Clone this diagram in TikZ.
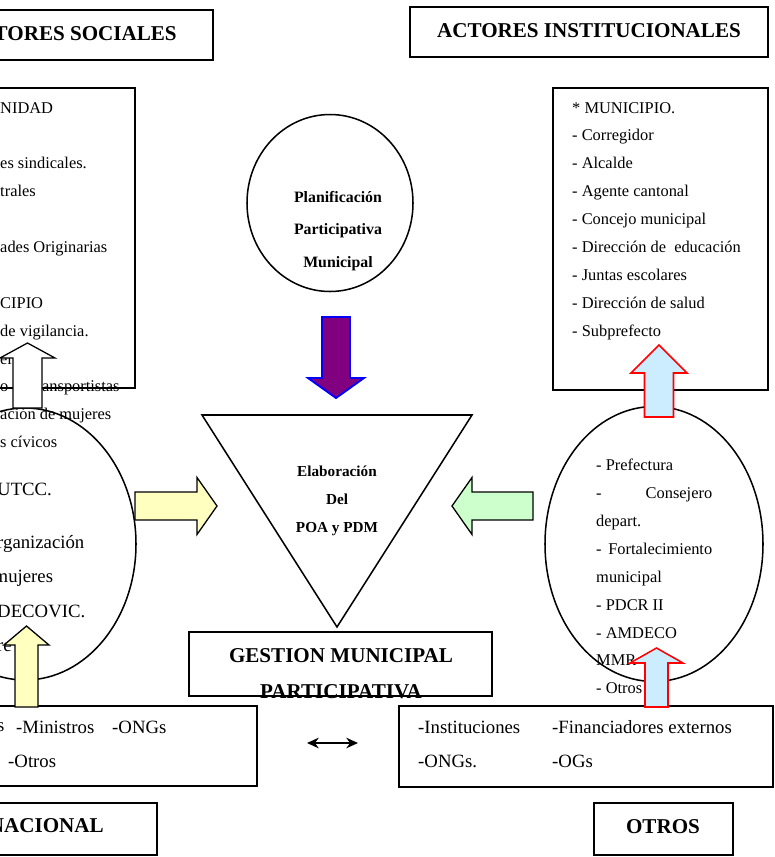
\documentclass[tikz,border=0pt]{standalone}
\usepackage{fontspec}
\setmainfont{Liberation Serif}
\usetikzlibrary{shapes, shapes.geometric, arrows.meta, positioning, fit}

% flecha de bloque: estilo, base, angulo, largo, largo punta, medio cuerpo, media punta
\newcommand{\flecha}[7]{%
  \filldraw[#1, shift={#2}, rotate=#3] (0,-#6) -- ({#4-#5},-#6) -- ({#4-#5},-#7) -- (#4,0)
    -- ({#4-#5},#7) -- ({#4-#5},#6) -- (0,#6) -- cycle;}

\begin{document}
\begin{tikzpicture}[x=0.03cm, y=-0.03cm]
% Estilos
\tikzstyle{caja} = [rectangle, draw=black, line width=1.5pt, inner sep=0pt]
\tikzstyle{titulo} = [inner sep=0pt, font=\fontsize{18}{22}\selectfont\bfseries]
\tikzstyle{circ} = [ellipse, draw=black, line width=1.3pt, inner sep=0pt]
\tikzstyle{lista} = [align=left, inner sep=0pt, anchor=north west, font=\fontsize{14}{23.8}\selectfont]
\tikzstyle{listag} = [align=left, inner sep=0pt, anchor=north west, font=\fontsize{16}{29.5}\selectfont]
\tikzstyle{texto} = [inner sep=0pt, anchor=west, font=\fontsize{16}{19}\selectfont]
\tikzstyle{negrita} = [align=center, inner sep=0pt, font=\fontsize{13.5}{28}\selectfont\bfseries]
\tikzstyle{doble} = [line width=2pt, {Stealth[length=10pt,width=9pt]}-{Stealth[length=10pt,width=9pt]}]
\tikzstyle{amarilla} = [draw=black, line width=1.1pt, fill={rgb,255:red,255;green,255;blue,192}]
\tikzstyle{blanca} = [draw=black, line width=1.1pt, fill=white]
\tikzstyle{celeste} = [draw=red, line width=1.3pt, fill={rgb,255:red,204;green,236;blue,255}]
\tikzstyle{verde} = [draw=black, line width=1.1pt, fill={rgb,255:red,204;green,255;blue,204}]
\tikzstyle{morada} = [draw=blue, line width=1.6pt, fill={rgb,255:red,128;green,0;blue,128}]

\clip (0,0) rectangle (775,857);

% Titulos
\node [caja, fit={(-63,10) (213,60)}] (sociales) {};
\node [titulo, anchor=base] (tsociales) at (70,40) {ACTORES SOCIALES};
\node [caja, fit={(410,7) (768,57)}] (institucionales) {};
\node [titulo, anchor=base] (tinstitucionales) at (589,37) {ACTORES INSTITUCIONALES};
\node [caja, fit={(-100,803) (157,855)}] (nacional) {};
\node [titulo, anchor=base east] (tnacional) at (104,832) {NACIONAL};
\node [caja, fit={(594,803) (733,855)}] (otros) {};
\node [titulo, anchor=base] (totros) at (663,833) {OTROS};

% Cajas de actores
\node [caja, fit={(-20,88) (135,388)}] (comunidad) {};
\node [lista] (tcomunidad) at (0,102) {NIDAD\\ \mbox{}\\ es sindicales.\\ trales\\ \mbox{}\\ ades Originarias\\ \mbox{}\\
  CIPIO\\ de vigilancia.\\ er\\ o de transportistas\\ ación de mujeres\\ s cívicos};
\node [caja, fit={(553,88) (768,390)}] (municipio) {};
\node [lista] (tmunicipio) at (572,102) {* MUNICIPIO.\\ - Corregidor\\ - Alcalde\\ - Agente cantonal\\ - Concejo municipal\\
  - Dirección de\ \ educación\\ - Juntas escolares\\ - Dirección de salud\\ - Subprefecto};

% Circulos
\node [circ, minimum width=222*0.03cm, minimum height=272*0.03cm] (orgs) at (25,544) {};
\node [texto] (tutcc) at (-3,489) {UTCC.};
\node [listag] (torgs) at (-3,535) {rganización\\ \hspace{-3pt}mujeres\\ DECOVIC.\\ re};
\node [circ, minimum width=218*0.03cm, minimum height=275*0.03cm] (prefectura) at (654,544) {};
\node [lista] (tprefectura) at (596,459) {- Prefectura\\ \hbox to 3.48cm{-\hfill Consejero}\\ depart.\\
  \hbox to 3.48cm{-\hfill Fortalecimiento}\\ municipal\\ - PDCR II\\ - AMDECO\\ MMR\\ - Otros};
\node [circ, minimum width=166*0.03cm, minimum height=177*0.03cm] (planif) at (330,203) {};
\node [negrita, font=\fontsize{13.5}{28}\selectfont\bfseries] (tplanif) at (338,231) {Planificación\\ Participativa\\ Municipal};

% Triangulo
\coordinate (t1) at (202,415);
\coordinate (t2) at (472,415);
\coordinate (t3) at (337,627);
\draw [line width=1.3pt] (t1) -- (t2) -- (t3) -- cycle;
\node [negrita, font=\fontsize{13}{24}\selectfont\bfseries] (poa) at (337,501) {Elaboración\\ Del\\ POA y PDM};

% Gestion
\node [caja, fit={(189,632) (492,696)}] (gestion) {};
\node [titulo, align=center, anchor=north, font=\fontsize{18}{30.6}\selectfont\bfseries] (tgestion) at (341,648)
  {GESTION MUNICIPAL\\ PARTICIPATIVA};

% Cajas de abajo
\node [caja, fit={(-20,706) (257,786)}] (ministros) {};
\node [texto] at (-3,727) {s};
\node [texto] at (16,727) {-Ministros};
\node [texto] at (112,727) {-ONGs};
\node [texto] at (8,761) {-Otros};
\node [caja, fit={(399,706) (773,787)}] (externos) {};
\node [texto] at (418,727) {-Instituciones};
\node [texto] at (552,727) {-Financiadores externos};
\node [texto] at (418,761) {-ONGs.};
\node [texto] at (552,761) {-OGs};

\coordinate (d1) at (307,743);
\coordinate (d2) at (358,743);
\draw [doble] (d1) -- (d2);

% Flechas
\flecha{blanca}{(27.5,408)}{90}{65}{15}{14.5}{27.5}
\flecha{amarilla}{(135,506)}{0}{82}{20}{14}{28.5}
\flecha{amarilla}{(26.5,707)}{90}{81}{19}{11.5}{22.5}
\flecha{morada}{(336,317)}{-90}{81}{20}{14}{28}
\flecha{verde}{(533,506)}{180}{81}{20}{14}{28.5}
\flecha{celeste}{(659,417)}{90}{72}{28}{14.5}{28}
\flecha{celeste}{(656.5,707)}{90}{59}{15}{11.5}{26.5}
\end{tikzpicture}
\end{document}
